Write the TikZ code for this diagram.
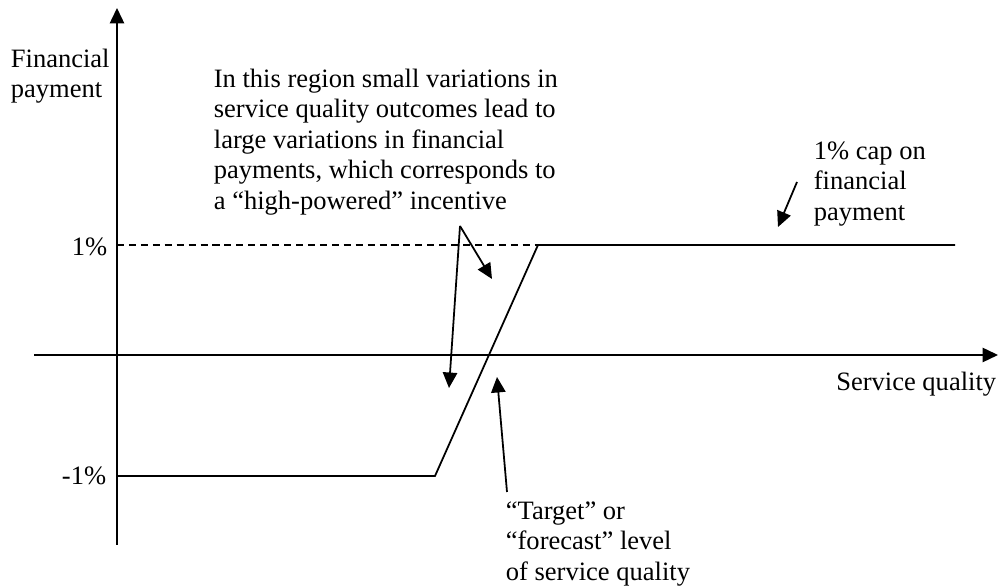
\documentclass[tikz,border=0pt]{standalone}
\usepackage{fontspec}
\setmainfont{Liberation Serif}
\usetikzlibrary{arrows.meta}

\begin{document}
\begin{tikzpicture}[x=0.4525pt,y=-0.4525pt,line width=0.8pt,
  txt/.style={inner sep=0pt,align=left,font=\fontsize{12}{13.8}\selectfont},
  pointer/.style={-{Triangle[length=7pt,width=6.5pt]}}]
\useasboundingbox (0,0) rectangle (999,587);
% \draw[style=help lines,gray!50] (0,0) grid[step=50] (999,587);
% axes
\coordinate (Ytop) at (117,8);
\coordinate (Ybot) at (117,545);
\coordinate (Xleft) at (34,355);
\coordinate (Xright) at (998,355);
\draw[pointer] (Ybot) -- (Ytop);
\draw[pointer] (Xleft) -- (Xright);
\node[txt,anchor=west] (ylab) at (10,76) {Financial\\payment};
\node[txt,anchor=east] (xlab) at (997,384) {Service quality};
\node[txt,anchor=east] (plus) at (108,247) {1\%};
\node[txt,anchor=east] (minus) at (107,476) {-1\%};
% payment curve
\coordinate (A) at (117,476);
\coordinate (B) at (435,476);
\coordinate (C) at (538,245);
\coordinate (D) at (955,245);
\draw[dash pattern=on 3.2pt off 2.2pt] (117,245) -- (C);
\draw (A) -- (B) -- (C) -- (D);
% comments
\node[txt,anchor=west] (region) at (213,142) {In this region small variations in\\service quality outcomes lead to\\large variations in financial\\payments, which corresponds to\\a “high-powered” incentive};
\node[txt,anchor=west] (cap) at (813,184) {1\% cap on\\financial\\payment};
\node[txt,anchor=west] (target) at (505,544) {“Target” or\\“forecast” level\\of service quality};
\coordinate (fork) at (460,226);
\coordinate (lowtip) at (449,388);
\coordinate (hightip) at (492,279);
\draw[pointer] (fork) -- (lowtip);
\draw[pointer] (fork) -- (hightip);
\coordinate (captail) at (797,182);
\coordinate (captip) at (778,227);
\draw[pointer] (captail) -- (captip);
\coordinate (targettail) at (507,492);
\coordinate (targettip) at (497,377);
\draw[pointer] (targettail) -- (targettip);
\end{tikzpicture}
\end{document}
